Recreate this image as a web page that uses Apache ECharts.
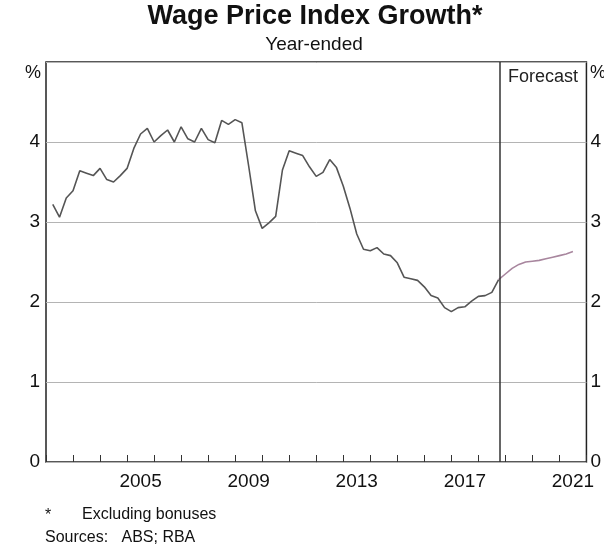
<!DOCTYPE html>
<html>
<head>
<meta charset="utf-8">
<script src="https://cdn.jsdelivr.net/npm/echarts@6/dist/echarts.min.js"></script>
<style>html,body{margin:0;padding:0;background:#fff;}#c{width:604px;height:552px;}</style>
</head>
<body>
<div id="c"></div>
<script>
// Years shown as bands on the x axis
const years = ['2002','2003','2004','2005','2006','2007','2008','2009','2010','2011','2012','2013','2014','2015','2016','2017','2018','2019','2020','2021'];
const yearLabels = ['2005','2009','2013','2017','2021'];
const yTicks = [0, 1, 2, 3, 4];
// Quarterly series, first observation at 2002.25
const firstQuarter = 2002.25;
const actual = [3.22,3.06,3.30,3.39,3.64,3.61,3.58,3.67,3.53,3.50,3.58,3.67,
  3.92,4.10,4.17,4.00,4.08,4.15,4.00,4.19,4.04,4.00,4.17,4.03,3.99,4.27,4.22,4.28,
  4.24,3.70,3.14,2.92,2.99,3.07,3.65,3.89,3.86,3.83,3.69,3.57,3.62,3.78,3.68,3.45,
  3.17,2.85,2.66,2.64,2.68,2.60,2.58,2.49,2.31,2.29,2.27,2.19,2.08,2.05,1.93,1.88,
  1.93,1.94,2.01,2.07,2.08,2.12,2.28];
const forecast = [2.28,2.35,2.42,2.47,2.50,2.51,2.52,2.54,2.56,2.58,2.60,2.63];
const forecastStart = 2018.78;

const actualData = actual.map((v, i) => [firstQuarter + 0.25 * i, v]);
const forecastData = forecast.map((v, i) => [firstQuarter + 0.25 * (actual.length - 1 + i), v]);

const FONT = 'Liberation Sans, Arial, sans-serif';
const chart = echarts.init(document.getElementById('c'), null, {renderer: 'canvas'});
chart.setOption({
  animation: false,
  backgroundColor: '#fff',
  grid: {left: 46, right: 17, top: 62, bottom: 90, show: true, borderColor: '#222', borderWidth: 1.5, backgroundColor: 'transparent'},
  xAxis: [
    {type: 'value', min: 2002, max: 2022, show: false},
    {type: 'category', data: years, position: 'bottom', boundaryGap: true,
     axisLine: {show: false},
     axisTick: {show: true, inside: true, length: 7, interval: 0, lineStyle: {color: '#333', width: 1}},
     axisLabel: {interval: (idx, val) => yearLabels.includes(val), fontSize: 19, color: '#111', fontFamily: FONT, margin: 10},
     splitLine: {show: false}}
  ],
  yAxis: [
    {type: 'value', min: 0, max: 5, interval: 1, position: 'left',
     axisLine: {show: false}, axisTick: {show: false},
     axisLabel: {formatter: v => yTicks.includes(v) ? String(v) : '', fontSize: 19, color: '#111', fontFamily: FONT, margin: 6},
     splitLine: {show: true, lineStyle: {color: '#b4b4b4', width: 1}}},
    {type: 'value', min: 0, max: 5, interval: 1, position: 'right',
     axisLine: {show: false}, axisTick: {show: false},
     axisLabel: {formatter: v => yTicks.includes(v) ? String(v) : '', fontSize: 19, color: '#111', fontFamily: FONT, margin: 4},
     splitLine: {show: false}}
  ],
  series: [
    {type: 'line', xAxisIndex: 0, yAxisIndex: 0, data: actualData, symbol: 'none',
     lineStyle: {color: '#555', width: 1.6}, z: 3,
     markLine: {silent: true, symbol: 'none', label: {show: false},
       lineStyle: {color: '#333', width: 1.5, type: 'solid'},
       data: [{xAxis: forecastStart}]}},
    {type: 'line', xAxisIndex: 0, yAxisIndex: 0, data: forecastData, symbol: 'none',
     lineStyle: {color: '#a8869e', width: 1.6}, z: 3}
  ],
  graphic: [
    {type: 'text', x: 315, y: 17, style: {text: 'Wage Price Index Growth*', font: 'bold 27px ' + FONT, fill: '#111', align: 'center', verticalAlign: 'middle'}},
    {type: 'text', x: 314, y: 45, style: {text: 'Year-ended', font: '19px ' + FONT, fill: '#111', align: 'center', verticalAlign: 'middle'}},
    {type: 'text', x: 33, y: 73, style: {text: '%', font: '18px ' + FONT, fill: '#111', align: 'center', verticalAlign: 'middle'}},
    {type: 'text', x: 590, y: 73, style: {text: '%', font: '18px ' + FONT, fill: '#111', align: 'left', verticalAlign: 'middle'}},
    {type: 'text', x: 508, y: 77, style: {text: 'Forecast', font: '18px ' + FONT, fill: '#222', align: 'left', verticalAlign: 'middle'}},
    {type: 'text', x: 45, y: 516, style: {text: '*', font: '16px ' + FONT, fill: '#111', align: 'left', verticalAlign: 'middle'}},
    {type: 'text', x: 82, y: 515, style: {text: 'Excluding bonuses', font: '16px ' + FONT, fill: '#111', align: 'left', verticalAlign: 'middle'}},
    {type: 'text', x: 45, y: 538, style: {text: 'Sources:   ABS; RBA', font: '16px ' + FONT, fill: '#111', align: 'left', verticalAlign: 'middle'}}
  ]
});
</script>
</body>
</html>
